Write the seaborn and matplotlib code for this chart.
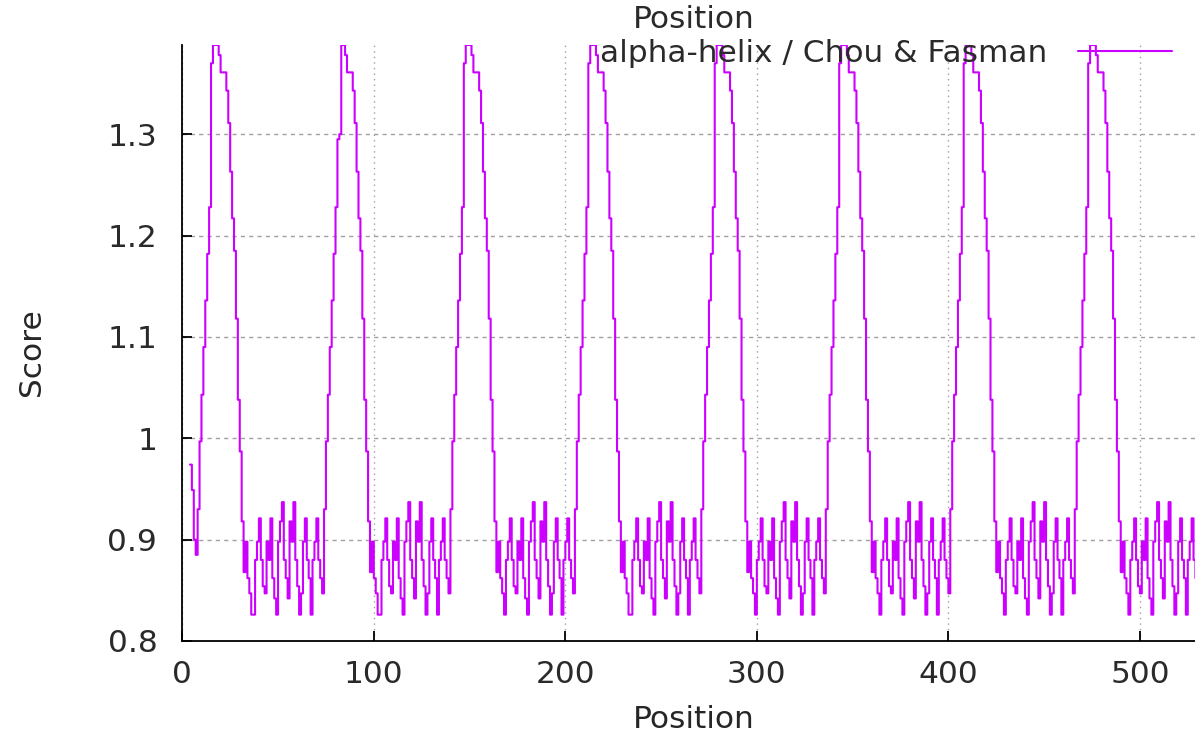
#Chou & Fasman alpha-helix profile, redrawn with seaborn

import numpy as np
import pandas as pd
import matplotlib
matplotlib.use('Agg')
import matplotlib.pyplot as plt
import seaborn as sns

#Values, one value per residue (positions 4 to 530)

start_fragment = [0.974, 0.949, 0.900, 0.885]

repeat_1 = [0.930, 0.997, 1.043, 1.090, 1.136, 1.182, 1.228, 1.370, 1.388, 1.388, 1.388, 1.378,
            1.361, 1.361, 1.361, 1.343, 1.311, 1.263, 1.217, 1.185, 1.118, 1.038, 0.987,
            0.918, 0.868, 0.898, 0.862, 0.847, 0.826, 0.826, 0.880, 0.898, 0.921, 0.880, 0.854,
            0.847, 0.898, 0.880, 0.921, 0.862, 0.842, 0.826, 0.898, 0.918, 0.937, 0.880, 0.862,
            0.842, 0.918, 0.898, 0.937, 0.880, 0.854, 0.826, 0.847, 0.898, 0.921, 0.880, 0.862,
            0.826, 0.880, 0.898, 0.921, 0.880, 0.862, 0.847]

repeat_2 = [0.930, 0.997, 1.043, 1.090, 1.136, 1.182, 1.228, 1.295, 1.300, 1.388, 1.388, 1.378,
            1.361, 1.361, 1.361, 1.343, 1.311, 1.263, 1.217, 1.185, 1.118, 1.038, 0.987,
            0.918, 0.868, 0.898, 0.862, 0.847, 0.826, 0.826, 0.880, 0.898, 0.921, 0.880, 0.854,
            0.847, 0.898, 0.880, 0.921, 0.862, 0.842, 0.826, 0.898, 0.918, 0.937, 0.880, 0.862,
            0.842, 0.918, 0.898, 0.937, 0.880, 0.854, 0.826, 0.847, 0.898, 0.921, 0.880, 0.862,
            0.826, 0.880, 0.898, 0.921, 0.880, 0.862, 0.847]

repeat_3 = [0.930, 0.997, 1.043, 1.090, 1.136, 1.182, 1.228, 1.370, 1.388, 1.388, 1.388, 1.378,
            1.361, 1.361, 1.361, 1.343, 1.311, 1.263, 1.217, 1.185, 1.118, 1.038, 0.987,
            0.918, 0.868, 0.898, 0.862, 0.847, 0.826, 0.880, 0.898, 0.921, 0.880, 0.854,
            0.847, 0.898, 0.880, 0.921, 0.862, 0.842, 0.826, 0.898, 0.918, 0.937, 0.880, 0.862,
            0.842, 0.918, 0.898, 0.937, 0.880, 0.854, 0.826, 0.847, 0.898, 0.921, 0.880, 0.862,
            0.826, 0.880, 0.898, 0.921, 0.880, 0.862, 0.847]

repeat_4 = [0.930, 0.997, 1.043, 1.090, 1.136, 1.182, 1.228, 1.370, 1.388, 1.388, 1.388, 1.378,
            1.361, 1.361, 1.361, 1.343, 1.311, 1.263, 1.217, 1.185, 1.118, 1.038, 0.987,
            0.918, 0.868, 0.898, 0.862, 0.847, 0.826, 0.826, 0.880, 0.898, 0.921, 0.880, 0.854,
            0.847, 0.898, 0.880, 0.921, 0.862, 0.842, 0.826, 0.898, 0.918, 0.937, 0.880, 0.862,
            0.842, 0.918, 0.898, 0.937, 0.880, 0.854, 0.826, 0.847, 0.898, 0.921, 0.880, 0.862,
            0.826, 0.880, 0.898, 0.921, 0.880, 0.862, 0.847]

repeat_5 = [0.930, 0.997, 1.043, 1.090, 1.136, 1.182, 1.228, 1.370, 1.388, 1.388, 1.388, 1.378,
            1.361, 1.361, 1.361, 1.343, 1.311, 1.263, 1.217, 1.185, 1.118, 1.038, 0.987,
            0.918, 0.868, 0.898, 0.862, 0.847, 0.826, 0.880, 0.898, 0.921, 0.880, 0.854,
            0.847, 0.898, 0.880, 0.921, 0.862, 0.842, 0.826, 0.898, 0.918, 0.937, 0.880, 0.862,
            0.842, 0.918, 0.898, 0.937, 0.880, 0.854, 0.826, 0.847, 0.898, 0.921, 0.880, 0.862,
            0.826, 0.880, 0.898, 0.921, 0.880, 0.862, 0.847]

repeat_6 = [0.930, 0.997, 1.043, 1.090, 1.136, 1.182, 1.228, 1.370, 1.388, 1.388, 1.388, 1.378,
            1.361, 1.361, 1.361, 1.343, 1.311, 1.263, 1.217, 1.185, 1.118, 1.038, 0.987,
            0.918, 0.868, 0.898, 0.862, 0.847, 0.826, 0.880, 0.898, 0.921, 0.880, 0.854,
            0.847, 0.898, 0.880, 0.921, 0.862, 0.842, 0.826, 0.898, 0.918, 0.937, 0.880, 0.862,
            0.842, 0.918, 0.898, 0.937, 0.880, 0.854, 0.826, 0.847, 0.898, 0.921, 0.880, 0.862,
            0.826, 0.880, 0.898, 0.921, 0.880, 0.862, 0.847]

repeat_7 = [0.930, 0.997, 1.043, 1.090, 1.136, 1.182, 1.228, 1.370, 1.388, 1.388, 1.388, 1.378,
            1.361, 1.361, 1.361, 1.343, 1.311, 1.263, 1.217, 1.185, 1.118, 1.038, 0.987,
            0.918, 0.868, 0.898, 0.862, 0.847, 0.826, 0.880, 0.898, 0.921, 0.880, 0.854,
            0.847, 0.898, 0.880, 0.921, 0.862, 0.842, 0.826, 0.898, 0.918, 0.937, 0.880, 0.862,
            0.842, 0.918, 0.898, 0.937, 0.880, 0.854, 0.826, 0.847, 0.898, 0.921, 0.880, 0.862,
            0.826, 0.880, 0.898, 0.921, 0.880, 0.862, 0.847]

repeat_8 = [0.930, 0.997, 1.043, 1.090, 1.136, 1.182, 1.228, 1.370, 1.388, 1.388, 1.388, 1.378,
            1.361, 1.361, 1.361, 1.343, 1.311, 1.263, 1.217, 1.185, 1.118, 1.038, 0.987,
            0.918, 0.868, 0.898, 0.862, 0.847, 0.826, 0.880, 0.898, 0.921, 0.880, 0.854,
            0.847, 0.898, 0.880, 0.921, 0.862, 0.842, 0.826, 0.898, 0.918, 0.937, 0.880, 0.862,
            0.842, 0.918, 0.898, 0.937, 0.880, 0.854, 0.826, 0.847, 0.898, 0.921, 0.880, 0.862,
            0.826, 0.880, 0.898, 0.921, 0.880, 0.862, 0.847]

first_position = 4
x_ticks = [0, 100, 200, 300, 400, 500]
y_ticks = [0.8, 0.9, 1.0, 1.1, 1.2, 1.3]
y_tick_labels = ['0.8', '0.9', '1', '1.1', '1.2', '1.3']

scores = start_fragment + repeat_1 + repeat_2 + repeat_3 + repeat_4 + repeat_5 + repeat_6 + repeat_7 + repeat_8
positions = np.arange(first_position, first_position + len(scores))
df = pd.DataFrame({'Position': positions, 'Score': scores})

sns.set_style('white')
plt.rcParams['font.family'] = ['DejaVu Sans']
plt.rcParams['text.color'] = '#2a2a2a'

FS = 22.5
W, H = 1195, 740
fig = plt.figure(figsize=(W / 100, H / 100), dpi=100)
ax = fig.add_axes([182.3 / W, 1 - 641 / H, (1205 - 182.3) / W, (641 - 45) / H])

sns.lineplot(data=df, x='Position', y='Score', ax=ax, color='#cc00ff', lw=1.5,
             drawstyle='steps-post', label='alpha-helix / Chou & Fasman')

ax.set_xlim(0, 534)
ax.set_ylim(0.8, 1.388)
ax.set_xticks(x_ticks)
ax.set_yticks(y_ticks)
ax.set_yticklabels(y_tick_labels)

ax.yaxis.grid(True, color='#a0a0a0', lw=1.0, linestyle=(0, (3, 3)))
ax.xaxis.grid(True, color='#a0a0a0', lw=1.0, linestyle=(0, (1, 3)))
ax.set_axisbelow(True)

for side in ['top', 'right']:
    ax.spines[side].set_visible(False)
for side in ['left', 'bottom']:
    ax.spines[side].set_color('black')
    ax.spines[side].set_linewidth(1.3)

ax.tick_params(axis='both', direction='in', length=7, width=1.3, labelsize=FS, colors='black', labelcolor='#2a2a2a')
ax.tick_params(axis='x', pad=14, bottom=True)
ax.tick_params(axis='y', pad=18, left=True)

ax.set_xlabel('Position', fontsize=FS)
ax.set_ylabel('Score', fontsize=FS)
ax.xaxis.label.set_verticalalignment('center')
ax.xaxis.set_label_coords(0.5, (641 - 720) / 596)
ax.yaxis.label.set_verticalalignment('center')
ax.yaxis.set_label_coords((32 - 182.3) / 1022.7, (641 - 352) / 596)

fig.text(693.6 / W, 1 - 20 / H, 'Position', ha='center', va='center', fontsize=FS)

ax.legend(loc='center right', bbox_to_anchor=(1172 / W, 1 - 53 / H), bbox_transform=fig.transFigure,
          frameon=False, markerfirst=False, handlelength=3.0, handletextpad=1.0,
          borderpad=0, borderaxespad=0, fontsize=FS)

fig.savefig('out.png', dpi=100)
